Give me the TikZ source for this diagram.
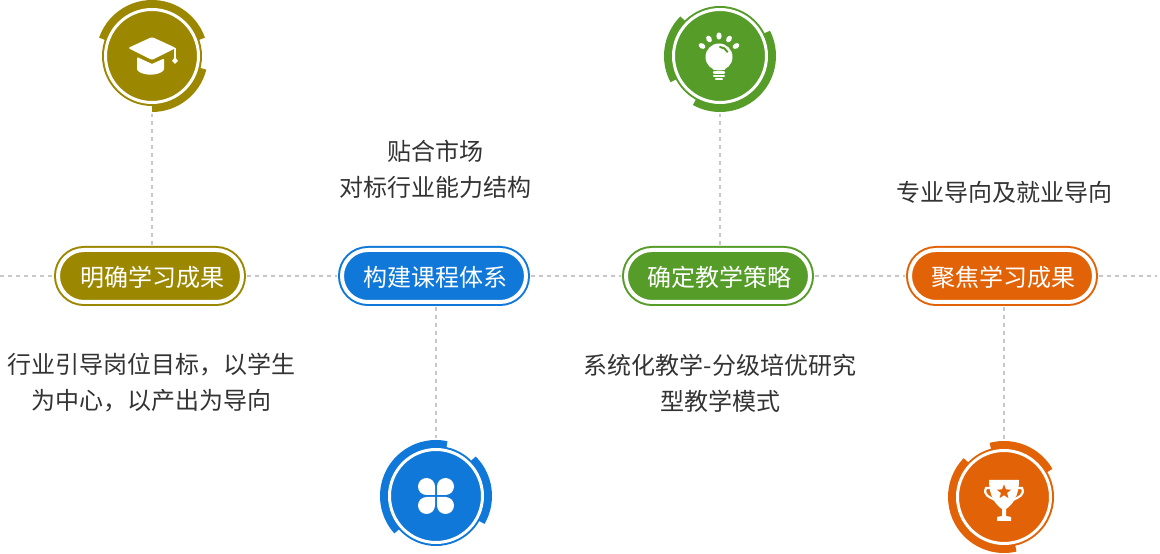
\documentclass[tikz,border=0pt]{standalone}
\usepackage{fontspec}
\setmainfont{Noto Sans CJK SC}
\usetikzlibrary{shapes.misc,shapes.geometric}
\definecolor{olivec}{HTML}{9C8800}
\definecolor{bluec}{HTML}{0F78D8}
\definecolor{greenc}{HTML}{559C29}
\definecolor{orangec}{HTML}{E26307}
\definecolor{textc}{HTML}{333333}
\definecolor{dashc}{HTML}{C8C8C8}
\tikzset{
    pillbox/.style={rounded rectangle,draw=#1,fill=#1,double=white,double distance=4pt,line width=2pt,minimum width=184pt,minimum height=52pt,inner sep=0pt,outer sep=5pt,text=white,font=\fontsize{24}{28}\selectfont},
    coin/.style={circle,draw=#1,fill=#1,double=white,double distance=3pt,line width=2pt,minimum size=93pt,inner sep=0pt,outer sep=11.5pt},
    band/.style={#1,line width=7pt},
    link/.style={dashc,line width=2pt,dash pattern=on 4pt off 4pt},
    note/.style={text=textc,align=center,inner sep=0pt,font=\fontsize{24}{36}\selectfont}
}
\newcommand{\pilltext}[2][3pt]{\raisebox{-1pt}[\height][\depth]{\kern#1 #2}}
\begin{document}
\begin{tikzpicture}[x=1pt,y=1pt]
    \useasboundingbox (0,0) rectangle (1160,554);
    %\draw[gray] (0,0) grid[step=100] (1160,554);

    % pills
    \node[pillbox=olivec] (pill1) at (150,278) {\pilltext[4pt]{明确学习成果}};
    \node[pillbox=bluec] (pill2) at (434,278) {\pilltext{构建课程体系}};
    \node[pillbox=greenc] (pill3) at (718,278) {\pilltext{确定教学策略}};
    \node[pillbox=orangec] (pill4) at (1002,278) {\pilltext{聚焦学习成果}};

    % coins
    \node[coin=olivec] (coin1) at (152,498) {};
    \node[coin=greenc] (coin2) at (720,498) {};
    \node[coin=bluec] (coin3) at (436,58) {};
    \node[coin=orangec] (coin4) at (1004,57) {};

    % connectors
    \coordinate (lineL) at (0,278);
    \coordinate (lineR) at (1157,278);
    \draw[link] (lineL) -- (pill1);
    \draw[link] (pill1) -- (pill2);
    \draw[link] (pill2) -- (pill3);
    \draw[link] (pill3) -- (pill4);
    \draw[link] (pill4) -- (lineR);
    \draw[link] (pill1.north -| coin1.south) -- (coin1.south);
    \draw[link] (pill3.north -| coin2.south) -- (coin2.south);
    \draw[link] (pill2.south -| coin3.north) -- (coin3.north);
    \draw[link] (pill4.south -| coin4.north) -- (coin4.north);

    \draw[band=olivec] (coin1.center) ++(161:52.5) arc[start angle=161,end angle=19,radius=52.5];
    \draw[band=olivec] (coin1.center) ++(-14:52.5) arc[start angle=-14,end angle=-90,radius=52.5];
    \draw[band=greenc] (coin2.center) ++(135:52.5) arc[start angle=135,end angle=208,radius=52.5];
    \draw[band=greenc] (coin2.center) ++(27:52.5) arc[start angle=27,end angle=-119,radius=52.5];
    \draw[band=bluec] (coin3.center) ++(78:52.5) arc[start angle=78,end angle=222,radius=52.5];
    \draw[band=bluec] (coin3.center) ++(45:52.5) arc[start angle=45,end angle=-30,radius=52.5];
    \draw[band=orangec] (coin4.center) ++(105:52.5) arc[start angle=105,end angle=30,radius=52.5];
    \draw[band=orangec] (coin4.center) ++(136:52.5) arc[start angle=136,end angle=283,radius=52.5];

    % cap
    \begin{scope}[shift={(coin1.center)}]
        \fill[white,rounded corners=1.5pt] (-24,8) -- (0,19) -- (24,8) -- (0,-4) -- cycle;
        \fill[white,rounded corners=1pt] (-15,-1) -- (0,-8) -- (12,-2.5) -- (12,-14) .. controls (6,-20) and (-9,-20) .. (-15,-14) -- cycle;
        \draw[white,line width=1.2pt] (23,8) -- (23,-3);
        \fill[white] (23,-1) -- (26,-5) -- (23,-8) -- (20,-5) -- cycle;
    \end{scope}

    % bulb
    \begin{scope}[shift={(coin2.center)}]
        \fill[white] (-1,-1) circle[radius=13.5];
        \fill[white] (-7,-10) -- (5,-10) -- (5,-14) -- (-7,-14) -- cycle;
        \draw[greenc,line width=2pt,line cap=round] (0,9) .. controls (3,9) and (6,7) .. (7.5,4);
        \draw[white,line width=2.4pt,line cap=round] (-6,-16.5) -- (4,-16.5) (-6,-20) -- (4,-20) (-4,-23.2) -- (2,-23.2);
        \foreach \rayx/\rayy/\rayrot in {-18/10/60,-11/17/30,-1/20/0,9/17/-30,16/10/-60}
            \fill[white,rotate around={\rayrot:(\rayx,\rayy)}] (\rayx,\rayy) ellipse[x radius=2.6,y radius=3.6];
    \end{scope}

    % clover
    \begin{scope}[shift={(coin3.center)}]
        \foreach \sx/\sy in {1/1,-1/1,1/-1,-1/-1}
            \fill[white,xscale=\sx,yscale=\sy] (1,1) -- (1,9.5) arc[start angle=180,end angle=-90,radius=8.5] -- cycle;
    \end{scope}

    % trophy
    \begin{scope}[shift={(coin4.center)}]
        \fill[white] (-15,17) -- (15,17) .. controls (15,0) and (8,-8) .. (2,-12) -- (2,-19) -- (7,-20) -- (7,-24) -- (-7,-24) -- (-7,-20) -- (-2,-19) -- (-2,-12) .. controls (-8,-8) and (-15,0) .. (-15,17) -- cycle;
        \draw[white,line width=2.2pt] (-14,9) -- (-18,9) .. controls (-21,2) and (-15,0) .. (-9,-3);
        \draw[white,line width=2.2pt] (14,9) -- (18,9) .. controls (21,2) and (15,0) .. (9,-3);
        \node[star,star points=5,star point ratio=2.3,fill=orangec,minimum size=15pt,inner sep=0pt] (trophystar) at (0,5) {};
    \end{scope}

    % notes
    \node[note] (note1) at (152,171) {行业引导岗位目标，以学生\\为中心，以产出为导向};
    \node[note] (note2) at (435,384.5) {贴合市场\\对标行业能力结构};
    \node[note] (note3) at (720,171) {系统化教学-分级培优研究\\型教学模式};
    \node[note] (note4) at (1004,362) {专业导向及就业导向};
\end{tikzpicture}
\end{document}
